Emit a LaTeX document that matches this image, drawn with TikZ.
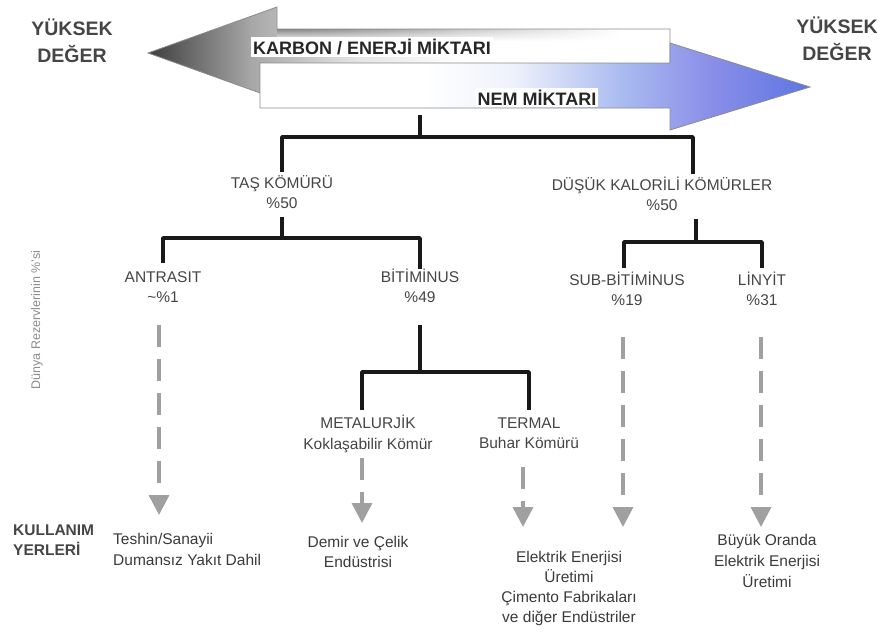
\documentclass[tikz,border=0pt]{standalone}
\usepackage{fontspec}
\setmainfont{Liberation Sans}
\usetikzlibrary{arrows.meta,fadings}
\definecolor{txt}{HTML}{454545}
\definecolor{txtb}{HTML}{3A3A3A}
\definecolor{dgray}{HTML}{A0A0A0}
\definecolor{bord}{HTML}{8C8C8C}
\definecolor{ga}{HTML}{3E3E3E}
\definecolor{gb}{HTML}{A8A8A8}
\definecolor{gc}{HTML}{E4E4E4}
\definecolor{ba}{HTML}{EEF2FB}
\definecolor{bb}{HTML}{A9BAF0}
\definecolor{bc}{HTML}{8A8EE8}
\definecolor{bd}{HTML}{5C76E2}
\pgfdeclarehorizontalshading{grayarr}{100bp}{color(0bp)=(ga); color(25bp)=(ga); color(35bp)=(gb); color(45bp)=(gc); color(55bp)=(white); color(100bp)=(white)}
\pgfdeclarehorizontalshading{bluearr}{100bp}{color(0bp)=(white); color(25bp)=(white); color(40bp)=(white); color(48bp)=(ba); color(58bp)=(bb); color(66bp)=(bc); color(75bp)=(bd); color(100bp)=(bd)}
\begin{document}
\begin{tikzpicture}[x=1pt,y=-1pt,
  tree/.style={line width=3.8pt, draw=black!90, line join=round},
  dconn/.style={draw=dgray, line width=3.5pt, dash pattern=on 22pt off 12pt,
    -{Triangle[width=20pt,length=20pt,fill=dgray]}},
  cat/.style={font=\fontsize{15.5}{20.5}\selectfont, text=txt, align=center, inner sep=0pt},
  usetext/.style={font=\fontsize{15.5}{20}\selectfont, text=txtb, align=center, inner sep=0pt},
  hi/.style={font=\bfseries\fontsize{19.5}{26.5}\selectfont, text=txt, align=center, inner sep=0pt},
  arrtxt/.style={font=\bfseries\fontsize{18}{20}\selectfont, text=black!85, fill=white, inner sep=2pt},
  arrbox/.style={draw=bord, line width=0.8pt}
]
\useasboundingbox (0,0) rectangle (880,632);

% big arrows
\shadedraw[shading=grayarr, arrbox] (148,53) -- (277,7) -- (277,29) -- (670,29) -- (670,77) -- (277,77) -- (277,99) -- cycle;
\shade[top color=black!45, bottom color=white, path fading=east] (277.5,29.5) rectangle (620,41);
\shadedraw[shading=bluearr, arrbox] (260,63) -- (670,63) -- (670,43) -- (810,87) -- (670,130) -- (670,108) -- (260,108) -- cycle;
\node[arrtxt] (karbon) at (372,47) {KARBON / ENERJİ MİKTARI};
\node[arrtxt] (nem) at (537,97.5) {NEM MİKTARI};

\node[hi] (yl) at (72,41) {YÜKSEK\\DEĞER};
\node[hi] (yr) at (837,39) {YÜKSEK\\DEĞER};

% category labels
\node[cat] (tas) at (282,192) {TAŞ KÖMÜRÜ\\\%50};
\node[cat] (dus) at (662,194) {DÜŞÜK KALORİLİ KÖMÜRLER\\\%50};
\node[cat] (antra) at (163,287.3) {ANTRASIT\\\textasciitilde\%1};
\node[cat] (bit) at (420,286) {BİTİMİNUS\\\%49};
\node[cat] (sub) at (627,289) {SUB-BİTİMİNUS\\\%19};
\node[cat] (lin) at (762,289) {LİNYİT\\\%31};
\node[cat, font=\fontsize{15.5}{21.5}\selectfont] (met) at (368,434) {METALURJİK\\Koklaşabilir Kömür};
\node[cat, font=\fontsize{15.5}{20}\selectfont] (ter) at (529,433) {TERMAL\\Buhar Kömürü};

\node[rotate=90, font=\fontsize{12.5}{14}\selectfont, text=black!45] (dunya) at (37,320) {Dünya Rezervlerinin \%'si};

% uses
\node[hi, font=\bfseries\fontsize{15.5}{20}\selectfont, align=left, anchor=west] (kul) at (13,540) {KULLANIM\\YERLERİ};
\node[usetext, align=left, anchor=west, font=\fontsize{15.5}{21}\selectfont] (u1) at (113,549.4) {Teshin/Sanayii\\Dumansız Yakıt Dahil};
\node[usetext] (u2) at (358,552.4) {Demir ve Çelik\\Endüstrisi};
\node[usetext] (u3) at (569,588) {Elektrik Enerjisi\\Üretimi\\Çimento Fabrikaları\\ve diğer Endüstriler};
\node[usetext, font=\fontsize{15.5}{21}\selectfont] (u4) at (767,561) {Büyük Oranda\\Elektrik Enerjisi\\Üretimi};

% tree connectors
\coordinate (ab) at (420,115);
\coordinate (j1) at (420,137);
\coordinate (j2) at (282,238);
\coordinate (j3) at (696,242);
\coordinate (j4) at (420,372);
\draw[tree] (ab) -- (j1);
\draw[tree] ([yshift=3pt]tas.north) |- (j1) -| ([xshift=31pt,yshift=3pt]dus.north);
\draw[tree] ([yshift=-8pt]tas.south) -- (j2);
\draw[tree] ([yshift=8pt]antra.north) |- (j2) -| (bit.north);
\draw[tree] ([xshift=34pt,yshift=-8pt]dus.south) -- (j3);
\draw[tree] ([xshift=-3pt,yshift=4pt]sub.north) |- (j3) -| ([yshift=4pt]lin.north);
\draw[tree] ([yshift=-22pt]bit.south) -- (j4);
\draw[tree] ([xshift=-6pt,yshift=5pt]met.north) |- (j4) -| ([yshift=7pt]ter.north);

% dashed arrows to uses
\coordinate (e1) at (159,515);
\coordinate (e2) at (362,523);
\coordinate (e3) at (523,527);
\coordinate (e4) at (623,527);
\coordinate (e5) at (761,527);
\draw[dconn] ([xshift=-4pt,yshift=-22pt]antra.south) -- (e1);
\draw[dconn] ([xshift=-6pt,yshift=-5pt]met.south) -- (e2);
\draw[dconn] ([xshift=-6pt,yshift=-18pt]ter.south) -- (e3);
\draw[dconn] ([xshift=-4pt,yshift=-31pt]sub.south) -- (e4);
\draw[dconn] ([xshift=-1pt,yshift=-31pt]lin.south) -- (e5);
\end{tikzpicture}
\end{document}
